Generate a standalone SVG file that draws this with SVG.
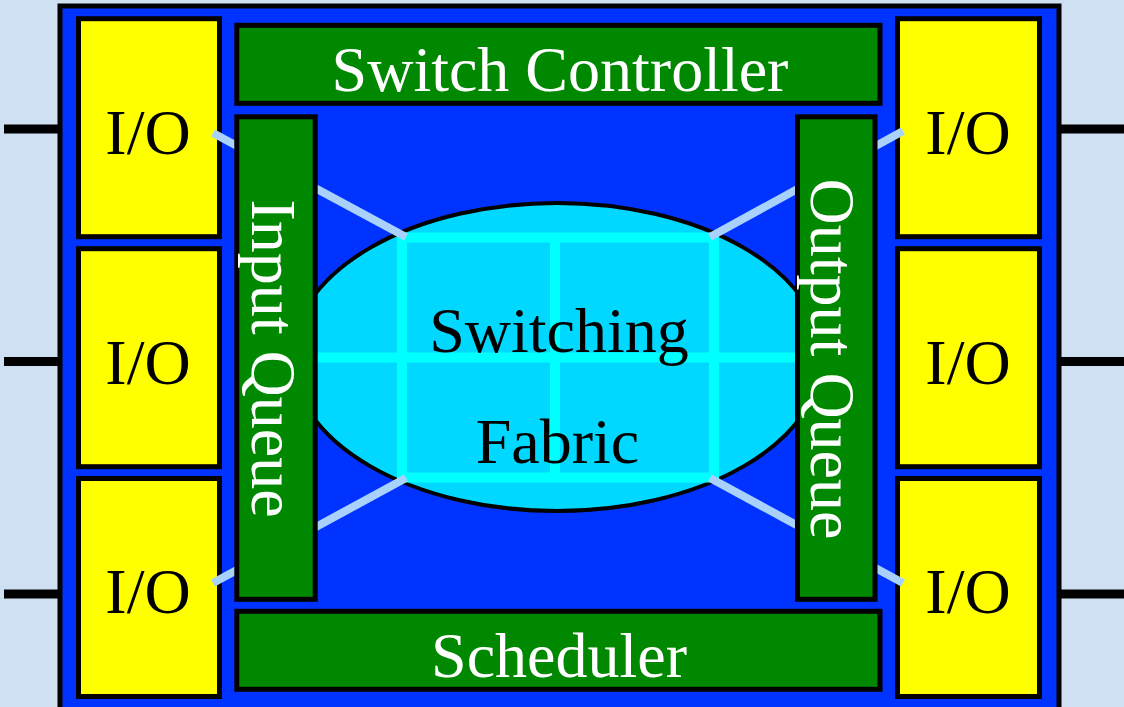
<svg xmlns="http://www.w3.org/2000/svg" width="1124" height="707" viewBox="0 0 1124 707">
<defs>
<style>
.io{fill:#ffff00;stroke:#000;stroke-width:5}
.grn{fill:#008800;stroke:#000;stroke-width:5}
.t{font-family:"Liberation Serif","Times New Roman",serif;font-size:64px;text-anchor:middle}
.blk{fill:#000}
.wht{fill:#fff}
.stub{stroke:#000;stroke-width:9}
.conn{stroke:#a8d2fc;stroke-width:8;fill:none}
.grid{stroke:#00ffff;stroke-width:10;fill:none}
</style>
<clipPath id="ec"><ellipse cx="557" cy="357" rx="265" ry="154"/></clipPath>
</defs>
<rect x="0" y="0" width="1124" height="707" fill="#cfe0f2"/>
<g id="stubs">
<line class="stub" x1="4" y1="129" x2="60" y2="129"/>
<line class="stub" x1="4" y1="361.5" x2="60" y2="361.5"/>
<line class="stub" x1="4" y1="594" x2="60" y2="594"/>
<line class="stub" x1="1059" y1="129" x2="1124" y2="129"/>
<line class="stub" x1="1059" y1="361.5" x2="1124" y2="361.5"/>
<line class="stub" x1="1059" y1="594" x2="1124" y2="594"/>
</g>
<g id="chassis">
<rect x="60" y="6" width="999" height="704" fill="#0033ff" stroke="#000" stroke-width="5"/>
</g>
<g id="io-l1"><rect class="io" x="78.5" y="18.7" width="141" height="218"/><text class="t blk" x="148" y="154">I/O</text></g>
<g id="io-l2"><rect class="io" x="78.5" y="248.7" width="141" height="218"/><text class="t blk" x="148" y="384">I/O</text></g>
<g id="io-l3"><rect class="io" x="78.5" y="478.5" width="141" height="218"/><text class="t blk" x="148" y="613">I/O</text></g>
<g id="io-r1"><rect class="io" x="897.5" y="18.7" width="142" height="218"/><text class="t blk" x="968" y="154">I/O</text></g>
<g id="io-r2"><rect class="io" x="897.5" y="248.7" width="142" height="218"/><text class="t blk" x="968" y="384">I/O</text></g>
<g id="io-r3"><rect class="io" x="897.5" y="478.5" width="142" height="218"/><text class="t blk" x="968" y="613">I/O</text></g>
<g id="switch-controller"><rect class="grn" x="236.8" y="25.3" width="643.2" height="78"/><text class="t wht" x="560" y="90.5">Switch Controller</text></g>
<g id="scheduler"><rect class="grn" x="236.8" y="611.3" width="643.2" height="78"/><text class="t wht" x="559" y="677">Scheduler</text></g>
<g id="switching-fabric">
<ellipse cx="557" cy="357" rx="265" ry="154" fill="#00d8ff" stroke="#000" stroke-width="4"/>
<g clip-path="url(#ec)">
<rect class="grid" x="402" y="237.5" width="312" height="240"/>
<line class="grid" x1="555" y1="237.5" x2="555" y2="477.5"/>
<line class="grid" x1="292" y1="357.5" x2="822" y2="357.5"/>
</g>
<text class="t blk" x="559" y="351.5">Switching</text>
<text class="t blk" x="557.5" y="463.3">Fabric</text>
</g>
<g id="connectors">
<line class="conn" x1="213" y1="133" x2="406" y2="237"/>
<line class="conn" x1="213" y1="583" x2="406" y2="478"/>
<line class="conn" x1="710" y1="237" x2="903" y2="131"/>
<line class="conn" x1="710" y1="478" x2="903" y2="583"/>
</g>
<g id="input-queue"><rect class="grn" x="236.8" y="116.8" width="78.4" height="482.5"/><text class="t wht" transform="translate(251.5,358.5) rotate(90)">Input Queue</text></g>
<g id="output-queue"><rect class="grn" x="797.5" y="116.8" width="77.5" height="482.5"/><text class="t wht" transform="translate(811,359) rotate(90)">Output Queue</text></g>
</svg>
